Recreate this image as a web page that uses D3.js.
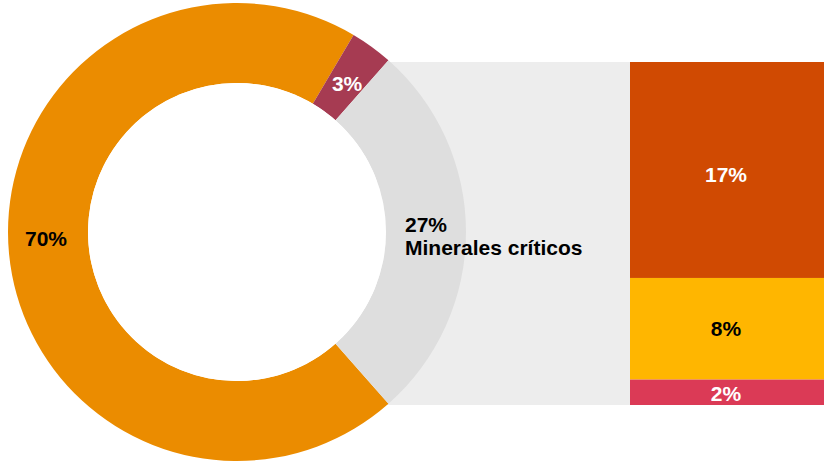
<!DOCTYPE html>
<html>
<head>
<meta charset="utf-8">
<script src="https://cdn.jsdelivr.net/npm/d3@7"></script>
<style>
  html, body { margin: 0; padding: 0; background: #ffffff; }
  svg { display: block; }
  text { font-family: "Liberation Sans", Arial, Helvetica, sans-serif; font-weight: bold; }
</style>
</head>
<body>
<svg id="chart" width="824" height="461"></svg>
<script>
// Donut slices
const donutLabels = ["70%", "3%", "27%"];
const donutValues = [70, 3, 27];
const donutColors = ["#eb8c00", "#a63b52", "#dedede"];

// Breakdown of the 27% slice
const barLabels = ["17%", "8%", "2%"];
const barValues = [17, 8, 2];
const barColors = ["#d04a02", "#ffb600", "#db3a56"];
const barTextColors = ["#ffffff", "#000000", "#ffffff"];

const calloutTitle = "Minerales críticos";

const svg = d3.select("#chart");
const cx = 237, cy = 232, R = 229, r = 149;
const fs = 21;
const capHalf = 0.36 * fs;

// Orange slice starts where the grey slice ends, so the grey slice is centred on the right
const greyFrac = donutValues[2] / d3.sum(donutValues);
const start = Math.PI / 2 + greyFrac * Math.PI; // radians clockwise from 12 o'clock

const pie = d3.pie().sort(null).value(d => d)
  .startAngle(start).endAngle(start + 2 * Math.PI);
const arcs = pie(donutValues);
const arc = d3.arc().innerRadius(r).outerRadius(R);

// Bar geometry
const barX0 = 630, barX1 = 824, barY0 = 62, barY1 = 405;
const y = d3.scaleLinear().domain([0, d3.sum(barValues)]).range([barY0, barY1]);

// Connector band behind the donut
svg.append("rect")
  .attr("x", cx + 140).attr("y", barY0)
  .attr("width", barX0 - cx - 140).attr("height", barY1 - barY0)
  .attr("fill", "#ededed");

const g = svg.append("g").attr("transform", `translate(${cx},${cy})`);
g.selectAll("path").data(arcs).join("path")
  .attr("d", arc)
  .attr("fill", (d, i) => donutColors[i]);

// White hole so the band doesn't show inside
g.append("circle").attr("r", r).attr("fill", "#ffffff");

// Large slice label sits on the left of the ring, small one on its centroid
const mid = (r + R) / 2;
const c1 = arc.centroid(arcs[1]);
g.append("text")
  .attr("x", -mid - 2).attr("y", 6 + capHalf)
  .attr("text-anchor", "middle").attr("font-size", fs)
  .attr("fill", "#000000").text(donutLabels[0]);
g.append("text")
  .attr("x", c1[0] - 1).attr("y", c1[1] + 4 + capHalf)
  .attr("text-anchor", "middle").attr("font-size", fs)
  .attr("fill", "#ffffff").text(donutLabels[1]);

// Callout for the grey slice
const callout = svg.append("text")
  .attr("x", 405).attr("y", 232)
  .attr("font-size", fs).attr("fill", "#000000");
callout.append("tspan").attr("x", 405).text(donutLabels[2]);
callout.append("tspan").attr("x", 405).attr("dy", 23).text(calloutTitle);

// Stacked bar
let acc = 0;
const segs = barValues.map((v, i) => {
  const s = { v, i, y0: acc, y1: acc + v };
  acc += v;
  return s;
});
svg.selectAll("rect.seg").data(segs).join("rect")
  .attr("class", "seg")
  .attr("x", barX0).attr("width", barX1 - barX0)
  .attr("y", d => y(d.y0))
  .attr("height", d => y(d.y1) - y(d.y0))
  .attr("fill", d => barColors[d.i]);

const nudge = [4, 0, 1];
svg.selectAll("text.seg").data(segs).join("text")
  .attr("class", "seg")
  .attr("x", (barX0 + barX1) / 2 - 1)
  .attr("y", d => (y(d.y0) + y(d.y1)) / 2 + nudge[d.i] + capHalf)
  .attr("text-anchor", "middle")
  .attr("font-size", fs)
  .attr("fill", d => barTextColors[d.i])
  .text(d => barLabels[d.i]);
</script>
</body>
</html>
